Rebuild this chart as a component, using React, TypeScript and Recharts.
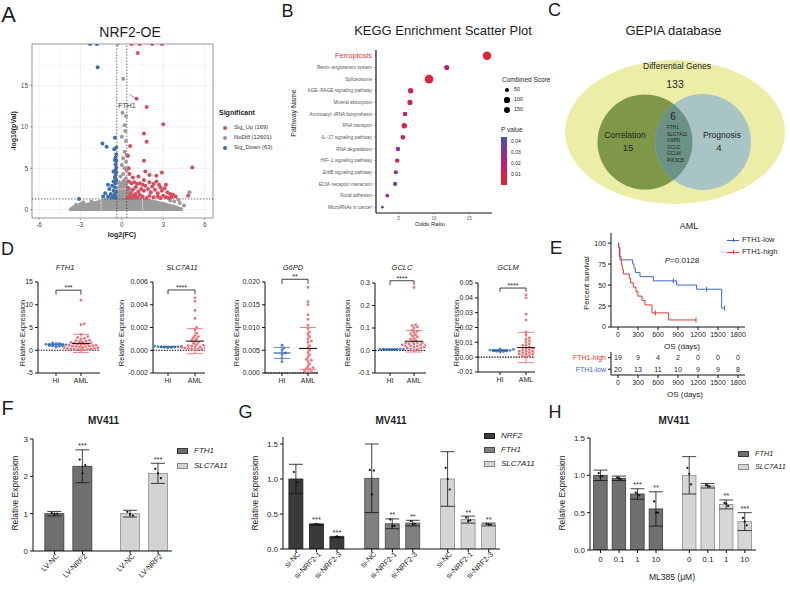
import React from "react";
import {
  ComposedChart, ScatterChart, Scatter, Area, Bar, Line, XAxis, YAxis, ZAxis,
  CartesianGrid, ReferenceLine, ReferenceArea, ErrorBar, Cell,
} from "recharts";

const FONT = "'Liberation Sans', Arial, Helvetica, sans-serif";
const INK = "#1E1E1E";

/* ---------- A: volcano NRF2-OE ---------- */
const cloudX = [-3.8, -3.3, -2.7, -2.1, -1.6, -1.1, -0.7, -0.4, -0.15, 0.05, 0.25, 0.5, 0.8, 1.1, 1.6, 2.1, 2.7, 3.3, 3.9, 4.4];
const cloudY = [0.05, 0.35, 0.6, 0.8, 1.0, 1.25, 1.6, 2.2, 2.9, 3.3, 3.1, 2.5, 1.9, 1.5, 1.25, 1.05, 0.85, 0.6, 0.35, 0.05];
const noDiffPts = [
  [-0.3, 20], [0.1, 15.8], [0.05, 11.7], [0.3, 11.3], [0.2, 10.2], [0.25, 9.5], [0.0, 8.8], [0.3, 8.3],
  [0.2, 7.0], [0.35, 6.6], [0.1, 6.2], [0.3, 5.8], [0.0, 5.4], [0.2, 5.0], [0.35, 4.7], [0.1, 4.3],
  [-0.1, 4.0], [0.3, 3.8], [0.15, 3.5], [-0.2, 3.3], [0.35, 3.3], [-3.5, 0.3], [-3.3, 0.6], [3.8, 1.0],
  [4.5, 0.5], [4.9, 2.1], [4.2, 0.8], [-2.8, 0.9], [-2.2, 1.0], [3.5, 1.1], [4.1, 1.2], [-3.0, 0.7],
];
const upPts = [
  [0.7, 20], [1.3, 20], [2.2, 20], [2.9, 20], [1.15, 18.9], [1.07, 13.4], [1.8, 12.4], [3.0, 10.3],
  [1.6, 9.2], [1.8, 8.2], [0.6, 7.7], [1.6, 5.9], [1.7, 4.6], [2.9, 4.5], [5.1, 5.1], [0.5, 5.0],
  [0.55, 4.3], [4.8, 1.7], [0.45, 6.5], [0.5, 3.4], [0.7, 3.2], [0.9, 3.3], [1.1, 3.1], [1.3, 3.2],
  [1.5, 3.0], [1.7, 2.9], [2.0, 3.3], [2.2, 2.8], [2.5, 3.4], [2.7, 3.0], [0.5, 2.6], [0.8, 2.4],
  [1.0, 2.7], [1.2, 2.2], [1.4, 2.5], [1.6, 2.3], [1.9, 2.5], [2.1, 2.1], [2.4, 2.4], [2.6, 2.0],
  [2.9, 2.3], [3.1, 2.6], [3.3, 2.1], [3.5, 1.9], [3.7, 1.8], [0.6, 1.9], [0.9, 1.7], [1.1, 1.5],
  [1.3, 1.8], [1.5, 1.6], [1.8, 1.4], [2.0, 1.7], [2.3, 1.5], [2.6, 1.6], [2.8, 1.4], [3.0, 1.7],
  [3.2, 1.5], [3.4, 1.4], [3.6, 1.5], [3.9, 1.6], [0.45, 1.5], [0.7, 1.4], [1.0, 1.9], [2.8, 2.7],
  [2.3, 3.1], [1.6, 3.6], [3.2, 3.0], [0.8, 3.9], [1.2, 4.0], [2.0, 4.2], [2.5, 4.1],
];
const downPts = [
  [-2.3, 20], [-1.8, 20], [-1.75, 17.2], [-1.4, 8.0], [-1.1, 7.6], [-0.5, 8.7], [-0.4, 7.5], [-0.55, 7.3],
  [-0.4, 6.7], [-0.45, 6.3], [-0.4, 5.9], [-0.45, 5.5], [-0.4, 5.1], [-0.45, 4.8], [-0.4, 4.5], [-0.45, 4.2],
  [-0.5, 3.9], [-0.4, 3.6], [-0.6, 3.4], [-0.45, 3.2], [-1.0, 3.0], [-0.7, 2.9], [-0.5, 2.7], [-0.9, 2.5],
  [-0.6, 2.3], [-0.45, 2.1], [-1.2, 2.0], [-0.8, 1.9], [-0.55, 1.7], [-1.0, 1.6], [-0.7, 1.5], [-0.45, 1.4],
  [-1.35, 1.6], [-3.1, 1.3], [-0.6, 4.6], [-0.5, 6.0],
];
const sigLabels = ["Sig_Up (169)", "NoDiff (12601)", "Sig_Down (63)"];
const sigColors = ["#DC4A5C", "#9B9B9B", "#3D6EB4"];

/* ---------- B: KEGG ---------- */
const keggNames = [
  "Ferroptosis", "Renin\u2212angiotensin system", "Spliceosome", "AGE\u2212RAGE signaling pathway",
  "Mineral absorption", "Aminoacyl\u2212tRNA biosynthesis", "RNA transport", "IL\u221217 signaling pathway",
  "RNA degradation", "HIF\u22121 signaling pathway", "ErbB signaling pathway", "ECM\u2212receptor interaction",
  "Focal adhesion", "MicroRNAs in cancer",
];
const keggOdds = [17.5, 11.8, 9.3, 6.7, 6.6, 5.9, 5.8, 5.6, 4.9, 4.8, 4.6, 4.5, 3.4, 2.7];
const keggScore = [330, 100, 350, 115, 100, 75, 115, 75, 65, 65, 55, 55, 35, 5];
const keggP = [0.004, 0.02, 0.004, 0.008, 0.011, 0.016, 0.006, 0.009, 0.03, 0.013, 0.033, 0.034, 0.024, 0.044];
const scoreLegend = [50, 100, 150];
const pLegend = [0.04, 0.03, 0.02, 0.01];

/* ---------- C: Venn ---------- */
const vennNames = ["Differential Genes", "Correlation", "Prognosis"];
const vennOnly = [133, 15, 4];
const vennShared = 6;
const vennGenes = ["FTH1", "SLC7A11", "G6PD", "GCLC", "GCLM", "PIK3CB"];

/* ---------- D: HI vs AML ---------- */
const dGenes = ["FTH1", "SLC7A11", "G6PD", "GCLC", "GCLM"];
const dHI = [
  [1.45, 1.5, 1.3, 1.2, 1.05, 0.95, 0.85, 1.6, 1.15, 0.7],
  [0.00035, 0.0003, 0.00028, 0.00025, 0.00031, 0.00033, 0.00022, 0.0003, 0.00027],
  [0.0061, 0.0055, 0.005, 0.0044, 0.004, 0.0032, 0.0025],
  [0.006, 0.005, 0.0055, 0.0045, 0.005, 0.006, 0.0048, 0.0052],
  [0.0052, 0.0048, 0.0045, 0.0042, 0.004, 0.0038, 0.0035, 0.0055, 0.0046],
];
const dAML = [
  [11.0, 5.8, 5.6, 3.5, 3.0, 2.8, 2.6, 2.4, 2.2, 2.0, 1.9, 1.8, 1.7, 1.5, 1.4, 1.3, 1.2, 1.1, 1.0, 0.9,
    0.8, 0.7, 0.6, 0.5, 0.4, 0.3, 0.2, 0.1, 0.05, 0.9, 1.6, 2.1, 0.3, 0.6, 1.1, 0.2, 0.4, 1.3, 0.8, 0.15],
  [0.0046, 0.0043, 0.0035, 0.0028, 0.002, 0.0018, 0.0015, 0.0013, 0.0011, 0.001, 0.0009, 0.0008, 0.0007,
    0.0006, 0.0005, 0.0004, 0.0003, 0.0003, 0.0003, 0.0002, 0.0002, 0.0002, 0.0001, 0.0001, 0.0001,
    0.00005, 0.00015, 0.00025, 0.00035, 0.00045, 0.0012],
  [0.0188, 0.0157, 0.015, 0.0128, 0.0118, 0.0105, 0.0098, 0.009, 0.0085, 0.008, 0.0075, 0.007, 0.0068,
    0.006, 0.0055, 0.005, 0.0045, 0.004, 0.0035, 0.003, 0.0028, 0.0025, 0.002, 0.0015, 0.0012, 0.001,
    0.0008, 0.0005, 0.0003, 0.0002],
  [0.28, 0.115, 0.11, 0.105, 0.1, 0.09, 0.085, 0.08, 0.075, 0.07, 0.065, 0.06, 0.055, 0.05, 0.045, 0.04,
    0.035, 0.035, 0.035, 0.03, 0.03, 0.03, 0.025, 0.025, 0.025, 0.02, 0.02, 0.02, 0.015, 0.015, 0.01,
    0.01, 0.005, 0.005, 0.0],
  [0.042, 0.04, 0.029, 0.025, 0.017, 0.015, 0.013, 0.012, 0.011, 0.01, 0.009, 0.008, 0.008, 0.007,
    0.006, 0.006, 0.005, 0.005, 0.005, 0.004, 0.004, 0.004, 0.003, 0.003, 0.003, 0.002, 0.002, 0.002,
    0.001, 0.001, 0.0],
];
const dHIMean = [1.2, 0.0003, 0.0044, 0.005, 0.0045];
const dHISd = [0.3, 0.00005, 0.0012, 0.0008, 0.0007];
const dAMLMean = [1.5, 0.0008, 0.0054, 0.041, 0.0065];
const dAMLSd = [2.0, 0.0011, 0.0046, 0.048, 0.0102];
const dStars = ["***", "****", "**", "****", "****"];

/* ---------- E: Kaplan-Meier ---------- */
const kmLowT = [0, 10, 30, 220, 240, 260, 330, 530, 880, 1180, 1555, 1600];
const kmLowS = [100, 95, 80, 75, 70, 65, 60, 55, 50, 45, 22.5, 22.5];
const kmHighT = [0, 8, 20, 45, 55, 65, 80, 170, 190, 230, 270, 300, 360, 405, 510, 760, 1170];
const kmHighS = [100, 94.7, 84.2, 78.9, 73.7, 68.4, 63.2, 57.9, 52.6, 47.4, 42.1, 36.8, 31.6, 26.3, 16.8, 8.4, 8.4];
const censorLowT = [830, 1330, 1600];
const censorLowS = [55, 45, 22.5];
const censorHighT = [560, 1170];
const censorHighS = [16.8, 8.4];
const riskTimes = [0, 300, 600, 900, 1200, 1500, 1800];
const riskHigh = [19, 9, 4, 2, 0, 0, 0];
const riskLow = [20, 13, 11, 10, 9, 9, 8];

/* ---------- F / G / H: MV411 qPCR ---------- */
const fLabels = ["LV-NC", "LV-NRF2"];
const fGenes = ["FTH1", "SLC7A11"];
const fMean = [[1.0, 2.27], [1.0, 2.08]];
const fSd = [[0.06, 0.44], [0.09, 0.27]];
const fReps = [[[1.02, 0.98, 1.0], [2.45, 2.08, 2.3]], [[1.05, 0.98, 0.95], [2.2, 2.08, 1.95]]];
const fStars = [["", "***"], ["", "***"]];

const gLabels = ["si-NC", "si-NRF2-1", "si-NRF2-3"];
const gGenes = ["NRF2", "FTH1", "SLC7A11"];
const gMean = [[1.0, 0.35, 0.17], [1.01, 0.36, 0.37], [1.0, 0.42, 0.35]];
const gSd = [[0.21, 0.01, 0.01], [0.49, 0.07, 0.04], [0.39, 0.05, 0.02]];
const gReps = [
  [[1.1, 0.95, 0.95], [0.35, 0.36, 0.35], [0.17, 0.18, 0.17]],
  [[1.13, 0.78, 1.12], [0.42, 0.33, 0.33], [0.4, 0.35, 0.36]],
  [[1.16, 1.0, 0.85], [0.45, 0.4, 0.41], [0.36, 0.35, 0.35]],
];
const gStars = [["", "***", "***"], ["", "**", "**"], ["", "**", "**"]];

const hDoses = ["0", "0.1", "1", "10"];
const hGenes = ["FTH1", "SLC7A11"];
const hMean = [[1.0, 0.96, 0.75, 0.55], [1.0, 0.86, 0.61, 0.38]];
const hSd = [[0.07, 0.03, 0.07, 0.23], [0.25, 0.03, 0.06, 0.12]];
const hReps = [
  [[1.03, 0.98, 0.99], [0.97, 0.96, 0.95], [0.77, 0.75, 0.73], [0.65, 0.5, 0.5]],
  [[1.1, 1.02, 0.88], [0.87, 0.86, 0.85], [0.63, 0.62, 0.59], [0.43, 0.38, 0.33]],
];
const hStars = [["", "", "***", "**"], ["", "", "**", "***"]];

/* ---------- helpers ---------- */
const xy = (a: number[][]) => a.map(([x, y]) => ({ x, y }));

function Txt(p: {
  x: number; y: number; s: number; children: React.ReactNode; b?: boolean; i?: boolean;
  c?: string; a?: "l" | "c" | "r"; r?: number;
}) {
  const tx = p.a === "l" ? "0" : p.a === "r" ? "-100%" : "-50%";
  return (
    <div style={{
      position: "absolute", left: p.x, top: p.y, fontSize: p.s, lineHeight: 1, whiteSpace: "nowrap",
      fontWeight: p.b ? 700 : 400, fontStyle: p.i ? "italic" : "normal", color: p.c ?? INK,
      transform: `translate(${tx},-50%)${p.r ? ` rotate(${p.r}deg)` : ""}`,
    }}>{p.children}</div>
  );
}

const At = ({ x, y, children }: { x: number; y: number; children: React.ReactNode }) => (
  <div style={{ position: "absolute", left: x, top: y }}>{children}</div>
);

const dot = (fill: string, r: number) => (p: any) => <circle cx={p.cx} cy={p.cy} r={r} fill={fill} />;

/* KEGG p-value colour ramp (red -> magenta -> blue) */
const P_LO = 0.0005, P_HI = 0.0438;
const RAMP: [number, number[]][] = [[0, [232, 38, 43]], [0.45, [194, 24, 126]], [1, [63, 85, 170]]];
function pColor(p: number) {
  const t = Math.min(1, Math.max(0, (p - P_LO) / (P_HI - P_LO)));
  for (let k = 1; k < RAMP.length; k++) {
    if (t <= RAMP[k][0]) {
      const [t0, c0] = RAMP[k - 1], [t1, c1] = RAMP[k];
      const f = (t - t0) / (t1 - t0);
      return `rgb(${c0.map((c, j) => Math.round(c + (c1[j] - c) * f)).join(",")})`;
    }
  }
  return "rgb(63,85,170)";
}
const Z_DOMAIN = [0, 400], Z_RANGE = [5.3, 66.9];
const zRadius = (s: number) =>
  Math.sqrt((Z_RANGE[0] + ((s - Z_DOMAIN[0]) / (Z_DOMAIN[1] - Z_DOMAIN[0])) * (Z_RANGE[1] - Z_RANGE[0])) / Math.PI);

function KeggTick(props: any) {
  const { x, y, payload } = props;
  const hot = payload.value === 0;
  return (
    <text x={x} y={y} dy={hot ? 2.6 : 1.7} textAnchor="end" fontSize={hot ? 7.4 : 4.7}
      fill={hot ? "#E8312E" : "#555"} fontFamily={FONT}>{keggNames[payload.value]}</text>
  );
}

/* beeswarm layout for scatter-dot plots */
function swarm(vals: number[], lo: number, hi: number, hPx: number, uPx: number, center: number) {
  const d = 2.8;
  const placed: { px: number; py: number }[] = [];
  const order = vals.map((_, i) => i).sort((a, b) => vals[a] - vals[b]);
  const out: { x: number; y: number }[] = [];
  for (const i of order) {
    const py = ((vals[i] - lo) / (hi - lo)) * hPx;
    let px = 0;
    for (let k = 0; k < 40; k++) {
      const cand = k === 0 ? 0 : (k % 2 ? 1 : -1) * Math.ceil(k / 2) * d * 0.6;
      if (placed.every((q) => Math.hypot(q.px - cand, q.py - py) >= d)) { px = cand; break; }
    }
    placed.push({ px, py });
    out.push({ x: center + px / uPx, y: vals[i] });
  }
  return out;
}

const meanBar = (c: string, hw: number) => (p: any) =>
  <line x1={p.cx - hw} x2={p.cx + hw} y1={p.cy} y2={p.cy} stroke={c} strokeWidth={1.1} />;

const D_LAYOUT = [
  { axisX: 38, hiX: 56, amlX: 81, endX: 100, top: 282, bottom: 373, domain: [-5, 15], ticks: [-5, 0, 5, 10, 15], dec: 0, bracket: 13.2, drop: 1.0, labelX: 23 },
  { axisX: 153, hiX: 168, amlX: 195, endX: 205, top: 282, bottom: 373, domain: [-0.002, 0.006], ticks: [-0.002, 0, 0.002, 0.004, 0.006], dec: 3, bracket: 0.0053, drop: 0.0004, labelX: 122 },
  { axisX: 265, hiX: 282, amlX: 308, endX: 318, top: 282, bottom: 373, domain: [0, 0.02], ticks: [0, 0.005, 0.01, 0.015, 0.02], dec: 3, bracket: 0.0206, drop: 0.001, labelX: 237 },
  { axisX: 375, hiX: 390, amlX: 414, endX: 426, top: 283, bottom: 373, domain: [-0.1, 0.3], ticks: [-0.1, 0, 0.1, 0.2, 0.3], dec: 1, bracket: 0.31, drop: 0.02, labelX: 348 },
  { axisX: 478, hiX: 500, amlX: 526, endX: 535, top: 283, bottom: 372, domain: [-0.01, 0.05], ticks: [-0.01, 0, 0.01, 0.02, 0.03, 0.04, 0.05], dec: 2, bracket: 0.0466, drop: 0.0025, labelX: 457 },
];
const HI_C = "#4A86C8", AML_C = "#F0747A";

function DotPanel({ k }: { k: number }) {
  const L = D_LAYOUT[k];
  const u = L.amlX - L.hiX;
  const xLo = 1 - (L.hiX - L.axisX) / u, xHi = 2 + (L.endX - L.amlX) / u;
  const [yLo, yHi] = L.domain;
  const h = L.bottom - L.top;
  const hi = swarm(dHI[k], yLo, yHi, h, u, 1);
  const aml = swarm(dAML[k], yLo, yHi, h, u, 2);
  const W = 40, T = 14;
  const b = L.bracket, dr = L.drop;
  const ax = { stroke: "#111", strokeWidth: 1 };
  return (
    <At x={L.axisX - W} y={L.top - T}>
      <ComposedChart width={W + L.endX - L.axisX + 3} height={T + h + 20} margin={{ top: T, right: 3, bottom: 0, left: 0 }}>
        <XAxis type="number" dataKey="x" domain={[xLo, xHi]} ticks={[1, 2]} tickFormatter={(v: number) => (v === 1 ? "HI" : "AML")}
          height={20} tickSize={3} tick={{ fontSize: 7, fill: INK, fontFamily: FONT }} axisLine={ax} tickLine={ax} allowDataOverflow />
        <YAxis type="number" domain={L.domain} ticks={L.ticks} tickFormatter={(v: number) => v.toFixed(L.dec)} width={W}
          tickSize={3} tick={{ fontSize: 7, fill: INK, fontFamily: FONT }} axisLine={ax} tickLine={ax} allowDataOverflow interval={0} />
        <ReferenceLine y={0} stroke="#111" strokeDasharray="1.5 1.2" strokeWidth={1.1} />
        <Scatter data={hi} dataKey="y" shape={dot(HI_C, 1.4)} isAnimationActive={false} />
        <Scatter data={aml} dataKey="y" shape={dot(AML_C, 1.4)} isAnimationActive={false} />
        <Scatter data={[{ x: 1, y: dHIMean[k], sd: dHISd[k] }]} dataKey="y" shape={meanBar("#2B5A9A", 8.5)} isAnimationActive={false}>
          <ErrorBar dataKey="sd" direction="y" width={8} stroke={HI_C} strokeWidth={0.9} />
        </Scatter>
        <Scatter data={[{ x: 2, y: dAMLMean[k], sd: dAMLSd[k] }]} dataKey="y" shape={meanBar("#222", 9)} isAnimationActive={false}>
          <ErrorBar dataKey="sd" direction="y" width={8} stroke={AML_C} strokeWidth={0.9} />
        </Scatter>
        <ReferenceLine segment={[{ x: 1, y: b }, { x: 2, y: b }]} ifOverflow="visible" stroke="#111" strokeWidth={0.8}
          label={{ value: dStars[k], position: "top", fontSize: 7, fill: INK, offset: 0 }} />
        <ReferenceLine segment={[{ x: 1, y: b }, { x: 1, y: b - dr }]} ifOverflow="visible" stroke="#111" strokeWidth={0.8} />
        <ReferenceLine segment={[{ x: 2, y: b }, { x: 2, y: b - dr }]} ifOverflow="visible" stroke="#111" strokeWidth={0.8} />
      </ComposedChart>
    </At>
  );
}

/* bar panels (F, G, H) */
type BarStyle = { fill: string; stroke: string };

function Bars(p: {
  x: number; y: number; plotW: number; plotH: number; L: number; B: number; firstX: number; unit: number; gap: number;
  yDomain: number[]; yTicks: number[]; yDec: number; labels: string[]; mean: number[][]; sd: number[][];
  reps: number[][][]; stars: string[][]; styles: BarStyle[]; barW: number; rotate: boolean;
}) {
  const n = p.labels.length;
  const pos = (gi: number, i: number) => gi * (n + p.gap) + i;
  const rows = p.mean.flatMap((g, gi) => g.map((v, i) => ({
    x: pos(gi, i), value: v, sd: p.sd[gi][i], st: p.styles[gi], label: p.labels[i],
  })));
  const dots = p.mean.flatMap((g, gi) => g.flatMap((_, i) => p.reps[gi][i].map((v, r) => ({
    x: pos(gi, i) + (r - 1) * 0.1, y: v,
  }))));
  const starPts = p.mean.flatMap((g, gi) => g.map((v, i) => ({
    x: pos(gi, i), y: v + p.sd[gi][i], s: p.stars[gi][i],
  }))).filter((d) => d.s);
  const T = 4;
  const xLo = -(p.firstX - p.x) / p.unit;
  const xHi = xLo + p.plotW / p.unit;
  const ax = { stroke: "#111", strokeWidth: 1 };
  const tickEl = (t: any) => {
    const lab = rows[t.index]?.label ?? "";
    return p.rotate ? (
      <g transform={`translate(${t.x},${t.y})`}>
        <text transform="rotate(-45)" textAnchor="end" x={3} y={4} fontSize={7.5} fill={INK} fontFamily={FONT}>{lab}</text>
      </g>
    ) : (
      <text x={t.x} y={t.y} dy={7} textAnchor="middle" fontSize={8} fill={INK} fontFamily={FONT}>{lab}</text>
    );
  };
  const barShape = (b: any) => (
    <rect x={b.x + b.width / 2 - p.barW / 2} y={b.y} width={p.barW} height={b.height}
      fill={b.payload.st.fill} stroke={b.payload.st.stroke} strokeWidth={0.8} />
  );
  return (
    <At x={p.x - p.L} y={p.y - T}>
      <ComposedChart width={p.L + p.plotW + 4} height={T + p.plotH + p.B} data={rows} margin={{ top: T, right: 4, bottom: 0, left: 0 }}>
        <XAxis type="number" dataKey="x" domain={[xLo, xHi]} ticks={rows.map((r) => r.x)} tick={tickEl} height={p.B}
          tickSize={3} axisLine={ax} tickLine={ax} interval={0} allowDataOverflow />
        <YAxis type="number" domain={p.yDomain} ticks={p.yTicks} tickFormatter={(v: number) => v.toFixed(p.yDec)} width={p.L}
          tickSize={3} tick={{ fontSize: 8, fill: INK, fontFamily: FONT }} axisLine={ax} tickLine={ax} allowDataOverflow interval={0} />
        <Bar dataKey="value" barSize={p.barW} shape={barShape} isAnimationActive={false}>
          <ErrorBar dataKey="sd" direction="y" width={7} stroke="#111" strokeWidth={0.8} />
        </Bar>
        <Scatter data={dots} dataKey="y" shape={dot("#111", 1.1)} isAnimationActive={false} />
        <Scatter data={starPts} dataKey="y" isAnimationActive={false}
          shape={(s: any) => <text x={s.cx} y={s.cy - 1.5} textAnchor="middle" fontSize={7.5} fill="#333" fontFamily={FONT}>{s.payload.s}</text>} />
      </ComposedChart>
    </At>
  );
}

function LegendRect({ x, y, st, label, s = 8 }: { x: number; y: number; st: BarStyle; label: string; s?: number }) {
  return (
    <>
      <div style={{ position: "absolute", left: x, top: y - 3, width: 11, height: 6, background: st.fill, border: `0.8px solid ${st.stroke}`, boxSizing: "border-box" }} />
      <Txt x={x + 17} y={y} s={s} i a="l">{label}</Txt>
    </>
  );
}

/* ---------- App ---------- */
export default function App() {
  const cloud = cloudX.map((x, i) => ({ x, y: cloudY[i] }));
  const kegg = keggNames.map((name, i) => ({ row: i, or: keggOdds[i], score: keggScore[i], p: keggP[i], name }));
  const kmLow = kmLowT.map((t, i) => ({ t, s: kmLowS[i] }));
  const kmHigh = kmHighT.map((t, i) => ({ t, s: kmHighS[i] }));
  const cLow = censorLowT.map((t, i) => ({ t, s: censorLowS[i] }));
  const cHigh = censorHighT.map((t, i) => ({ t, s: censorHighS[i] }));
  const risk = [
    ...riskTimes.map((t, i) => ({ t, row: 0, n: riskHigh[i] })),
    ...riskTimes.map((t, i) => ({ t, row: 1, n: riskLow[i] })),
  ];
  const KM_BLUE = "#4167C6", KM_RED = "#E8352E";
  const gridMinorX = [-4.5, -1.5, 1.5, 4.5];
  const gridMinorY = [2.5, 7.5, 12.5, 17.5];
  const axA = { stroke: "#4D4D4D", strokeWidth: 0.5 };
  const axE = { stroke: "#111", strokeWidth: 1 };
  const vennLayout = [
    { x: 115, y: 92, rx: 110, ry: 72, fill: "#ECEEA8" },
    { x: 85, y: 102, rx: 47.5, ry: 47.5, fill: "#7F9848" },
    { x: 143, y: 102, rx: 48, ry: 48, fill: "#A8C4C4" },
  ];
  const ellShape = (fill?: string, clip?: string, def?: string) => (s: any) => (
    <g>
      {def && <defs><clipPath id={def}><ellipse cx={s.cx} cy={s.cy} rx={s.payload.rx} ry={s.payload.ry} /></clipPath></defs>}
      <ellipse cx={s.cx} cy={s.cy} rx={s.payload.rx} ry={s.payload.ry} fill={fill ?? s.payload.fill}
        clipPath={clip ? `url(#${clip})` : undefined} />
    </g>
  );
  const fStyles = [{ fill: "#6F6F6F", stroke: "#3C3C3C" }, { fill: "#D3D3D3", stroke: "#8C8C8C" }];
  const gStyles = [{ fill: "#3A3A3A", stroke: "#1E1E1E" }, { fill: "#7F7F7F", stroke: "#4A4A4A" }, { fill: "#D4D4D4", stroke: "#8C8C8C" }];
  const hStyles = [{ fill: "#707070", stroke: "#3C3C3C" }, { fill: "#D6D6D6", stroke: "#8C8C8C" }];

  return (
    <div style={{ position: "absolute", left: 0, top: 0, width: 790, height: 590, background: "#fff", overflow: "hidden", fontFamily: FONT, color: INK }}>
      {/* panel letters */}
      <Txt x={8.5} y={15} s={22}>A</Txt>
      <Txt x={287.5} y={11} s={18}>B</Txt>
      <Txt x={554.5} y={10} s={18}>C</Txt>
      <Txt x={7.5} y={248.5} s={18}>D</Txt>
      <Txt x={556} y={247} s={19}>E</Txt>
      <Txt x={7.5} y={407.5} s={20}>F</Txt>
      <Txt x={245.5} y={411.5} s={18}>G</Txt>
      <Txt x={555} y={411.5} s={18}>H</Txt>

      {/* A */}
      <Txt x={130} y={32} s={14}>NRF2-OE</Txt>
      <At x={0} y={40}>
        <ComposedChart width={216} height={200} data={cloud} margin={{ top: 4, right: 3, bottom: 0, left: 0 }}>
          <CartesianGrid stroke="#E6E6E6" strokeWidth={0.7} />
          {gridMinorX.map((v) => <ReferenceLine key={"mx" + v} x={v} stroke="#F1F1F1" strokeWidth={0.5} />)}
          {gridMinorY.map((v) => <ReferenceLine key={"my" + v} y={v} stroke="#F1F1F1" strokeWidth={0.5} />)}
          <XAxis type="number" dataKey="x" domain={[-6.5, 6.6]} ticks={[-6, -3, 0, 3, 6]} allowDataOverflow height={22}
            tickSize={2} tick={{ fontSize: 6.5, fill: "#4D4D4D", fontFamily: FONT }} axisLine={false} tickLine={axA} />
          <YAxis type="number" domain={[-1, 20]} ticks={[0, 5, 10, 15]} allowDataOverflow width={32}
            tickSize={2} tick={{ fontSize: 6.5, fill: "#4D4D4D", fontFamily: FONT }} axisLine={false} tickLine={axA} />
          <Area dataKey="y" type="monotone" stroke="#9B9B9B" strokeWidth={3} fill="#9B9B9B" fillOpacity={1} baseValue={-0.15} isAnimationActive={false} />
          <Scatter data={xy(noDiffPts)} dataKey="y" shape={dot(sigColors[1], 2)} isAnimationActive={false} />
          <Scatter data={xy(downPts)} dataKey="y" shape={dot(sigColors[2], 2)} isAnimationActive={false} />
          <Scatter data={xy(upPts)} dataKey="y" shape={dot(sigColors[0], 2)} isAnimationActive={false} />
          <ReferenceLine segment={[{ x: 0.55, y: 13.9 }, { x: 1.0, y: 13.45 }]} stroke="#555" strokeWidth={0.6} />
          <ReferenceLine x={-0.36} stroke="#333" strokeDasharray="1.5 1.5" strokeWidth={0.7} />
          <ReferenceLine x={0.36} stroke="#333" strokeDasharray="1.5 1.5" strokeWidth={0.7} />
          <ReferenceLine y={1.3} stroke="#333" strokeDasharray="1.5 1.5" strokeWidth={0.7} />
          <ReferenceArea x1={-6.5} x2={6.6} y1={-1} y2={20} fill="none" stroke="#8A8A8A" strokeWidth={0.8} />
        </ComposedChart>
      </At>
      <Txt x={127} y={105} s={7} c="#333">FTH1</Txt>
      <Txt x={13} y={131} s={7} b r={-90}>-log10(pVal)</Txt>
      <Txt x={122} y={234} s={7} b>log2(FC)</Txt>
      <Txt x={219} y={112} s={7} b a="l">Significant</Txt>
      {sigLabels.map((l, i) => (
        <React.Fragment key={l}>
          <div style={{ position: "absolute", left: 223, top: 126 + i * 10, width: 4, height: 4, borderRadius: 2, background: sigColors[i] }} />
          <Txt x={234} y={128 + i * 10} s={5.8} c="#333" a="l">{l}</Txt>
        </React.Fragment>
      ))}

      {/* B */}
      <Txt x={443} y={30} s={13}>KEGG Enrichment Scatter Plot</Txt>
      <At x={290} y={46}>
        <ScatterChart width={206} height={179} margin={{ top: 4, right: 4, bottom: 0, left: 0 }}>
          <XAxis type="number" dataKey="or" domain={[1.8, 18.2]} ticks={[5, 10, 15]} height={12} tickSize={2}
            tick={{ fontSize: 4.5, fill: "#555", fontFamily: FONT }} axisLine={{ stroke: "#111", strokeWidth: 1.2 }}
            tickLine={{ stroke: "#555", strokeWidth: 0.4 }} allowDataOverflow />
          <YAxis type="number" dataKey="row" domain={[-0.5, 13.5]} reversed ticks={kegg.map((d) => d.row)} interval={0}
            width={86} tickSize={2} tick={<KeggTick />} axisLine={{ stroke: "#111", strokeWidth: 1.2 }}
            tickLine={{ stroke: "#555", strokeWidth: 0.4 }} allowDataOverflow />
          <ZAxis type="number" dataKey="score" domain={Z_DOMAIN} range={Z_RANGE} />
          <Scatter data={kegg} shape="circle" isAnimationActive={false}>
            {kegg.map((d, i) => <Cell key={i} fill={pColor(d.p)} />)}
          </Scatter>
        </ScatterChart>
      </At>
      <Txt x={293} y={113} s={7} r={-90}>Pathway Name</Txt>
      <Txt x={430} y={224} s={6}>Odds Ratio</Txt>
      <Txt x={502} y={80} s={6.5} a="l">Combined Score</Txt>
      {scoreLegend.map((s, i) => {
        const r = zRadius(s);
        return (
          <React.Fragment key={s}>
            <div style={{ position: "absolute", left: 507 - r, top: 90 + i * 10 - r, width: 2 * r, height: 2 * r, borderRadius: r, background: "#000" }} />
            <Txt x={514} y={90 + i * 10} s={5.3} a="l">{s}</Txt>
          </React.Fragment>
        );
      })}
      <Txt x={501} y={130} s={6.5} a="l">P value</Txt>
      <div style={{
        position: "absolute", left: 501, top: 137, width: 5.5, height: 48,
        background: `linear-gradient(to top, ${RAMP.map(([t, c]) => `rgb(${c.join(",")}) ${t * 100}%`).join(",")})`,
      }} />
      {pLegend.map((p) => (
        <Txt key={p} x={511} y={137 + ((P_HI - p) / (P_HI - P_LO)) * 48} s={5} a="l">{p.toFixed(2)}</Txt>
      ))}

      {/* C */}
      <Txt x={673.5} y={30} s={13}>GEPIA database</Txt>
      <At x={560} y={40}>
        <ScatterChart width={230} height={175} margin={{ top: 0, right: 0, bottom: 0, left: 0 }}>
          <XAxis type="number" dataKey="x" domain={[0, 230]} hide />
          <YAxis type="number" dataKey="y" domain={[0, 175]} reversed hide width={0} />
          <Scatter data={[vennLayout[0]]} shape={ellShape()} isAnimationActive={false} />
          <Scatter data={[vennLayout[1]]} shape={ellShape(undefined, undefined, "vennCorr")} isAnimationActive={false} />
          <Scatter data={[vennLayout[2]]} shape={ellShape()} isAnimationActive={false} />
          <Scatter data={[vennLayout[2]]} shape={ellShape("#6C9186", "vennCorr")} isAnimationActive={false} />
        </ScatterChart>
      </At>
      <Txt x={677} y={66} s={8.5}>{vennNames[0]}</Txt>
      <Txt x={675} y={84} s={10.5}>{vennOnly[0]}</Txt>
      <Txt x={625} y={135} s={8.5}>{vennNames[1]}</Txt>
      <Txt x={628} y={148} s={9.5}>{vennOnly[1]}</Txt>
      <Txt x={722} y={135} s={8.5}>{vennNames[2]}</Txt>
      <Txt x={719} y={148} s={9.5}>{vennOnly[2]}</Txt>
      <Txt x={673} y={117} s={10}>{vennShared}</Txt>
      {vennGenes.map((g, i) => <Txt key={g} x={667} y={128 + i * 6.6} s={4.8} a="l">{g}</Txt>)}

      {/* D */}
      {dGenes.map((g, k) => (
        <React.Fragment key={g}>
          <Txt x={[65, 182, 293, 402, 508][k]} y={268} s={7.5} i>{g}</Txt>
          <Txt x={D_LAYOUT[k].labelX} y={333} s={7.5} r={-90}>Relative Expression</Txt>
          <DotPanel k={k} />
        </React.Fragment>
      ))}

      {/* E */}
      <Txt x={689} y={226} s={9}>AML</Txt>
      <At x={581} y={229}>
        <ComposedChart width={172} height={120} margin={{ top: 4, right: 8, bottom: 0, left: 0 }}>
          <XAxis type="number" dataKey="t" domain={[-105, 1905]} ticks={riskTimes} height={22} tickSize={3} interval={0}
            tick={{ fontSize: 7, fill: INK, fontFamily: FONT }} axisLine={axE} tickLine={axE} allowDataOverflow />
          <YAxis type="number" domain={[0, 112]} ticks={[0, 25, 50, 75, 100]} width={30} tickSize={3} interval={0}
            tick={{ fontSize: 7, fill: INK, fontFamily: FONT }} axisLine={axE} tickLine={axE} allowDataOverflow />
          <Line data={kmLow} dataKey="s" type="stepAfter" stroke={KM_BLUE} strokeWidth={1} dot={false} isAnimationActive={false} />
          <Line data={kmHigh} dataKey="s" type="stepAfter" stroke={KM_RED} strokeWidth={1} dot={false} isAnimationActive={false} />
          <Scatter data={cLow} dataKey="s" isAnimationActive={false}
            shape={(s: any) => <line x1={s.cx} x2={s.cx} y1={s.cy - 2.5} y2={s.cy + 2.5} stroke={KM_BLUE} strokeWidth={1} />} />
          <Scatter data={cHigh} dataKey="s" isAnimationActive={false}
            shape={(s: any) => <line x1={s.cx} x2={s.cx} y1={s.cy - 2.5} y2={s.cy + 2.5} stroke={KM_RED} strokeWidth={1} />} />
        </ComposedChart>
      </At>
      <Txt x={587} y={283} s={7.5} r={-90}>Percent survival</Txt>
      <Txt x={682} y={261} s={8}><i>P</i>=0.0128</Txt>
      <Txt x={682} y={347} s={8}>OS (days)</Txt>
      <div style={{ position: "absolute", left: 727, top: 240, width: 12, height: 1, background: KM_BLUE }} />
      <div style={{ position: "absolute", left: 732.5, top: 238, width: 1, height: 4, background: KM_BLUE }} />
      <Txt x={742} y={240} s={7.5} a="l">FTH1-low</Txt>
      <div style={{ position: "absolute", left: 727, top: 252, width: 12, height: 1, background: KM_RED }} />
      <div style={{ position: "absolute", left: 732.5, top: 250, width: 1, height: 4, background: KM_RED }} />
      <Txt x={742} y={252} s={7.5} a="l">FTH1-high</Txt>
      <At x={561} y={348}>
        <ComposedChart width={192} height={53} margin={{ top: 4, right: 8, bottom: 0, left: 0 }}>
          <XAxis type="number" dataKey="t" domain={[-105, 1905]} ticks={riskTimes} height={26} tickSize={3} interval={0}
            tick={{ fontSize: 7, fill: INK, fontFamily: FONT }} axisLine={axE} tickLine={axE} allowDataOverflow />
          <YAxis type="number" dataKey="row" domain={[-0.5, 1.5]} reversed ticks={[0, 1]} width={50} tickSize={3} interval={0}
            axisLine={axE} tickLine={axE} allowDataOverflow
            tick={(t: any) => (
              <text x={t.x} y={t.y} dy={2.5} textAnchor="end" fontSize={7} fontFamily={FONT}
                fill={t.payload.value === 0 ? KM_RED : KM_BLUE}>{t.payload.value === 0 ? "FTH1-high" : "FTH1-low"}</text>
            )} />
          <Scatter data={risk} dataKey="row" isAnimationActive={false}
            shape={(s: any) => <text x={s.cx} y={s.cy} dy={2.5} textAnchor="middle" fontSize={7} fill={INK} fontFamily={FONT}>{s.payload.n}</text>} />
        </ComposedChart>
      </At>
      <Txt x={685} y={395} s={8}>OS (days)</Txt>

      {/* F */}
      <Txt x={103.5} y={421} s={10} b>MV411</Txt>
      <Txt x={15} y={493} s={8.5} r={-90}>Relative Expression</Txt>
      <Bars x={33} y={439} plotW={139} plotH={112} L={33} B={36} firstX={54.5} unit={28} gap={0.7}
        yDomain={[0, 3]} yTicks={[0, 1, 2, 3]} yDec={0} labels={fLabels} mean={fMean} sd={fSd} reps={fReps}
        stars={fStars} styles={fStyles} barW={19} rotate />
      {fGenes.map((g, i) => <LegendRect key={g} x={177} y={451 + i * 15} st={fStyles[i]} label={g} />)}

      {/* G */}
      <Txt x={391} y={421} s={10} b>MV411</Txt>
      <Txt x={255} y={493} s={8.5} r={-90}>Relative Expression</Txt>
      <Bars x={283} y={437} plotW={217} plotH={112} L={30} B={40} firstX={296} unit={20.5} gap={0.7}
        yDomain={[0, 1.6]} yTicks={[0, 0.5, 1, 1.5]} yDec={1} labels={gLabels} mean={gMean} sd={gSd} reps={gReps}
        stars={gStars} styles={gStyles} barW={14} rotate />
      {gGenes.map((g, i) => <LegendRect key={g} x={484} y={436 + i * 14} st={gStyles[i]} label={g} />)}

      {/* H */}
      <Txt x={674} y={421} s={10} b>MV411</Txt>
      <Txt x={562} y={493} s={8.5} r={-90}>Relative Expression</Txt>
      <Bars x={590} y={438} plotW={166} plotH={112} L={30} B={22} firstX={600.5} unit={18.5} gap={0.8}
        yDomain={[0, 1.5]} yTicks={[0, 0.5, 1, 1.5]} yDec={1} labels={hDoses} mean={hMean} sd={hSd} reps={hReps}
        stars={hStars} styles={hStyles} barW={13.5} rotate={false} />
      {hGenes.map((g, i) => <LegendRect key={g} x={738} y={454 + i * 13} st={hStyles[i]} label={g} s={7.3} />)}
      <Txt x={672} y={577} s={8.5}>ML385 (μM)</Txt>
    </div>
  );
}
